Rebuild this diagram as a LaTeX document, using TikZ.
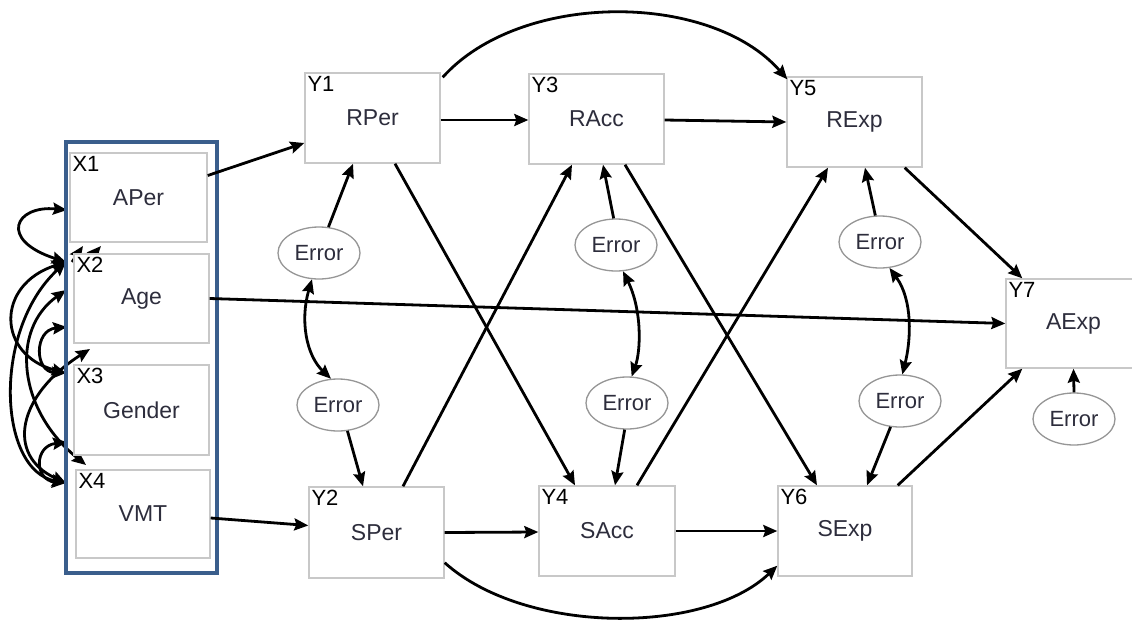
\documentclass[tikz,border=0pt]{standalone}
\usepackage{fontspec}
\setmainfont{Liberation Sans}
\usetikzlibrary{arrows.meta,shapes.geometric}
\definecolor{boxgray}{RGB}{200,200,200}
\definecolor{ellgray}{RGB}{150,150,150}
\definecolor{txtc}{RGB}{45,45,60}
\definecolor{grpblue}{RGB}{58,94,140}
\begin{document}
\begin{tikzpicture}[x=1pt,y=-1pt,
  arr/.style={line width=2.8pt,-{Stealth[length=14pt,width=12pt,inset=2pt]}},
  darr/.style={line width=2.8pt,{Stealth[length=14pt,width=12pt,inset=2pt]}-{Stealth[length=14pt,width=12pt,inset=2pt]}},
  var/.style={draw=boxgray,line width=1.4pt,fill=white,minimum width=135pt,minimum height=89pt,inner sep=0pt,
     font=\fontsize{23}{25}\selectfont,text=txtc},
  idlab/.style={anchor=north west,inner sep=0pt,xshift=3pt,yshift=-4pt,font=\fontsize{22}{24}\selectfont,text=black},
  err/.style={ellipse,draw=ellgray,line width=1.3pt,fill=white,minimum width=82pt,minimum height=52pt,inner sep=0pt,
     font=\fontsize{22}{24}\selectfont,text=txtc}]
\clip (0,0) rectangle (1132,619);
\fill[white] (0,0) rectangle (1132,619);

% --- covariance curves among X (drawn first, partly hidden by boxes)
\coordinate (cA) at (67,210);
\coordinate (cB) at (66,262);
\coordinate (cC) at (66,290);
\coordinate (cD) at (67,327);
\coordinate (cE) at (66,373);
\coordinate (cF) at (67,442);
\coordinate (cG) at (66,483);
\coordinate (cH) at (90,349);
\coordinate (cI) at (86,465);
\coordinate (cJ) at (83,246);
\coordinate (cK) at (101,246);
\draw[darr] (cB) .. controls (-2,240) and (15,205) .. (cA);
\draw[darr] (cB) .. controls (-5,285) and (-3,355) .. (cE);
\draw[darr] (cC) .. controls (10,330) and (18,410) .. (cI);
\draw[darr] (cD) .. controls (34,330) and (34,372) .. (cE);
\draw[darr] (cG) .. controls (5,455) and (18,395) .. (cH);
\draw[darr] (cF) .. controls (34,446) and (34,480) .. (cG);
\draw[darr] (cG) .. controls (-2,470) and (-8,330) .. (cB);
\draw[arr] (72,262) -- (cJ);
\draw[arr] (92,256) -- (cK);

% --- X boxes
\node[var,minimum width=137pt,label={[idlab]north west:X1}] (X1) at (138.5,197.5) {APer};
\node[var,label={[idlab]north west:X2}] (X2) at (141.5,298.5) {Age};
\node[var,minimum height=90pt,label={[idlab]north west:X3}] (X3) at (141.5,410) {Gender};
\node[var,minimum width=134pt,minimum height=88pt,label={[idlab]north west:X4}] (X4) at (143,514) {VMT};
\node[draw=grpblue,line width=4pt,minimum width=151pt,minimum height=431pt,inner sep=0pt] (grp) at (141.5,357.5) {};

% --- Y boxes
\node[var,minimum height=90pt,label={[idlab]north west:Y1}] (Y1) at (372.5,118) {RPer};
\node[var,minimum height=91pt,label={[idlab]north west:Y2}] (Y2) at (376.5,532.5) {SPer};
\node[var,minimum height=90pt,label={[idlab]north west:Y3}] (Y3) at (596.5,119) {RAcc};
\node[var,minimum width=136pt,minimum height=90pt,label={[idlab]north west:Y4}] (Y4) at (607,531) {SAcc};
\node[var,minimum height=90pt,label={[idlab]north west:Y5}] (Y5) at (854.5,122) {RExp};
\node[var,minimum width=134pt,minimum height=90pt,label={[idlab]north west:Y6}] (Y6) at (845,531) {SExp};
\node[var,label={[idlab]north west:Y7}] (Y7) at (1073.5,323.5) {AExp};

% --- Error ellipses
\node[err] (E1) at (319,253) {Error};
\node[err] (E2) at (338,405) {Error};
\node[err] (E3) at (616,245) {Error};
\node[err] (E4) at (627,403) {Error};
\node[err] (E5) at (880,242) {Error};
\node[err] (E6) at (900,401) {Error};
\node[err] (E7) at (1074,419) {Error};

% --- paths
\draw[arr] ([yshift=22pt]X1.east) -- ([yshift=-25pt]Y1.west);
\draw[arr] (X2.east) -- (Y7.west);
\draw[arr] ([yshift=-4pt]X4.east) -- ([yshift=7pt]Y2.west);

\draw[arr] ([yshift=-2pt]Y1.east) -- ([yshift=-1pt]Y3.west);
\draw[arr] ([yshift=-1pt]Y3.east) -- (Y5.west);
\draw[arr] (Y2.east) -- ([yshift=-1pt]Y4.west);
\draw[arr] (Y4.east) -- (Y6.west);

\draw[arr] ([xshift=2pt,yshift=-5pt]Y1.north east) .. controls (520,-9) and (710,-9) .. ([xshift=1pt,yshift=-3pt]Y5.north west);
\draw[arr] ([yshift=16pt]Y2.south east) .. controls (525,635) and (705,635) .. ([yshift=11pt]Y6.south west);

\draw[arr] ([xshift=22.5pt]Y1.south) -- ([xshift=-32pt]Y4.north);
\draw[arr] ([xshift=26.5pt]Y2.north) -- ([xshift=-24.5pt]Y3.south);
\draw[arr] ([xshift=28.5pt]Y3.south) -- ([xshift=-28pt]Y6.north);
\draw[arr] ([xshift=30pt]Y4.north) -- ([xshift=-26.5pt]Y5.south);
\draw[arr] ([xshift=-18pt]Y5.south east) -- ([xshift=17pt]Y7.north west);
\draw[arr] ([xshift=-15pt]Y6.north east) -- ([xshift=17pt]Y7.south west);

\draw[arr] (E1.70) -- ([xshift=-19.5pt]Y1.south);
\draw[arr] (E2.-70) -- ([xshift=-13.5pt]Y2.north);
\draw[arr] (E3.95) -- ([xshift=6.5pt]Y3.south);
\draw[arr] (E4.-95) -- ([xshift=8pt]Y4.north);
\draw[arr] (E5.100) -- ([xshift=10.5pt]Y5.south);
\draw[arr] (E6.-110) -- ([xshift=22pt]Y6.north);
\draw[arr] (E7.north) -- (Y7.south);

\draw[darr] (E1.-105) .. controls (300,320) and (306,355) .. (E2.105);
\draw[darr] (E3.-75) .. controls (642,310) and (641,350) .. (E4.80);
\draw[darr] (E5.-70) .. controls (913,300) and (911,340) .. (E6.85);
\end{tikzpicture}
\end{document}
